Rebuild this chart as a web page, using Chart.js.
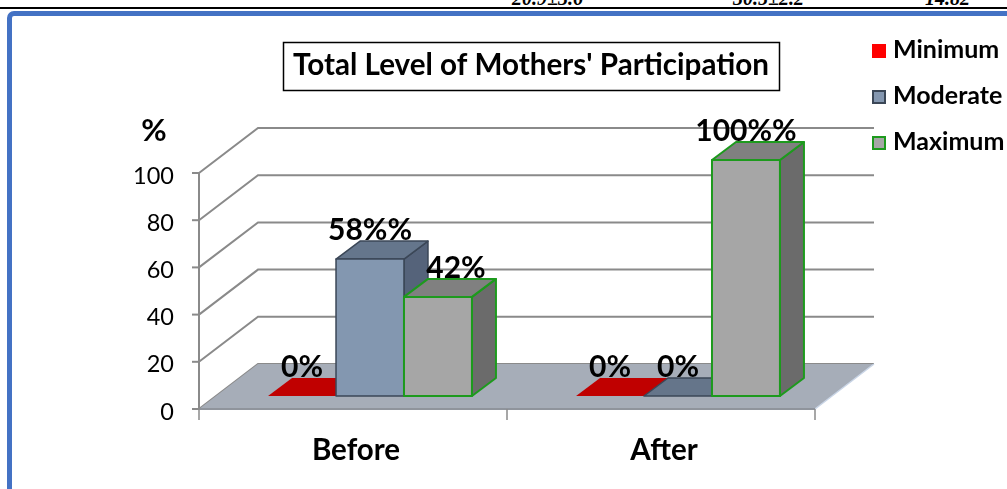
<!DOCTYPE html>
<html><head><meta charset="utf-8">
<script src="https://cdn.jsdelivr.net/npm/chart.js@4.4.0/dist/chart.umd.min.js"></script>
<style>
html,body{margin:0;padding:0;background:#fff;width:1007px;height:489px;overflow:hidden;position:relative;}
#rule{position:absolute;left:0;top:7px;width:1007px;height:2px;background:#000;}
#frame{position:absolute;left:7px;top:11px;width:1100px;height:600px;border:5px solid #4472c4;border-radius:7px;box-sizing:border-box;}
.cut{position:absolute;top:-12px;font:italic bold 20px "Liberation Serif",serif;line-height:20px;white-space:nowrap;color:#000;}
canvas{position:absolute;left:0;top:0;}
</style></head>
<body>
<div class="cut" style="left:512px">20.9±3.6</div>
<div class="cut" style="left:733px">30.5±2.2</div>
<div class="cut" style="left:925px">14.82</div>
<div id="rule"></div>
<div id="frame"></div>
<canvas id="c" width="1007" height="489"></canvas>
<script>
// ---- data ----
const categories = ['Before', 'After'];
const seriesNames = ['Minimum', 'Moderate', 'Maximum'];
const minimumValues = [0, 0];
const moderateValues = [58, 0];
const maximumValues = [42, 100];
const minimumLabels = ['0%', '0%'];
const moderateLabels = ['58%%', '0%'];
const maximumLabels = ['42%', '100%%'];
const yTicks = [0, 20, 40, 60, 80, 100];
const chartTitle = "Total Level of Mothers' Participation";
const yUnit = '%';

// ---- styles ----
const FONT = 'Lato, "Open Sans", sans-serif';
const barStyles = [
  { front: '#c00000', top: '#c00000', side: '#900000', flat: '#c00000', border: null, legend: '#ff0000', legendBorder: null },
  { front: '#8397b0', top: '#65768c', side: '#55637a', flat: '#65758a', border: '#3b4757', legend: '#8497b0', legendBorder: '#3b4757' },
  { front: '#a6a6a6', top: '#808080', side: '#6b6b6b', flat: '#808080', border: '#1d9a1d', legend: '#a6a6a6', legendBorder: '#1d9a1d' }
];
const seriesLabels = [minimumLabels, moderateLabels, maximumLabels];
const labelNudge = { '2-0': 18 };
const BAR_D = { x: 24, y: -18 };
const FRONT = { x: -17, y: 13 };
const BACK = { x: 42, y: -32 };
const GRID = '#8a8a8a';

const plugin3d = {
  id: 'plugin3d',
  beforeDatasetsDraw(chart) {
    const ctx = chart.ctx, ys = chart.scales.y, xs = chart.scales.x;
    const L = chart.chartArea.left, R = chart.chartArea.right;
    ctx.save();
    ctx.strokeStyle = GRID; ctx.lineWidth = 2;
    ys.ticks.forEach(t => {
      const p = ys.getPixelForValue(t.value);
      ctx.beginPath();
      ctx.moveTo(L + FRONT.x, p + FRONT.y);
      ctx.lineTo(L + BACK.x, p + BACK.y);
      ctx.lineTo(R + BACK.x, p + BACK.y);
      ctx.stroke();
    });
    // floor
    const z = ys.getPixelForValue(0);
    ctx.beginPath();
    ctx.moveTo(L + FRONT.x, z + FRONT.y);
    ctx.lineTo(R + FRONT.x, z + FRONT.y);
    ctx.lineTo(R + BACK.x, z + BACK.y);
    ctx.lineTo(L + BACK.x, z + BACK.y);
    ctx.closePath();
    ctx.fillStyle = '#a6adb8'; ctx.fill();
    ctx.strokeStyle = '#c9d5e6'; ctx.lineWidth = 1.5;
    ctx.beginPath(); ctx.moveTo(R + FRONT.x, z + FRONT.y); ctx.lineTo(R + BACK.x, z + BACK.y); ctx.stroke();
    ctx.strokeStyle = '#8f949c'; ctx.lineWidth = 2;
    ctx.beginPath(); ctx.moveTo(L + FRONT.x, z + FRONT.y); ctx.lineTo(R + FRONT.x, z + FRONT.y); ctx.stroke();
    // front vertical axis + tick marks
    ctx.strokeStyle = GRID; ctx.lineWidth = 2;
    const top = ys.getPixelForValue(ys.max);
    ctx.beginPath(); ctx.moveTo(L + FRONT.x, top + FRONT.y); ctx.lineTo(L + FRONT.x, z + FRONT.y); ctx.stroke();
    ys.ticks.forEach(t => {
      const p = ys.getPixelForValue(t.value) + FRONT.y;
      ctx.beginPath(); ctx.moveTo(L + FRONT.x - 7, p); ctx.lineTo(L + FRONT.x, p); ctx.stroke();
    });
    // x ticks at category boundaries
    ctx.lineWidth = 1.5;
    const n = xs.ticks.length;
    for (let i = 0; i <= n; i++) {
      const px = L + (R - L) * i / n + FRONT.x;
      ctx.beginPath(); ctx.moveTo(px, z + FRONT.y); ctx.lineTo(px, z + FRONT.y + 11); ctx.stroke();
    }
    // y unit label
    ctx.fillStyle = '#000'; ctx.font = 'bold 31px ' + FONT;
    ctx.textAlign = 'center'; ctx.textBaseline = 'middle';
    ctx.fillText(yUnit, 154, 131);
    // title box
    ctx.font = 'bold 26px ' + FONT;
    const w = ctx.measureText(chartTitle).width;
    const fs = 26 * 476 / w;
    ctx.font = 'bold ' + fs.toFixed(2) + 'px ' + FONT;
    ctx.textBaseline = 'alphabetic';
    ctx.fillText(chartTitle, 531, 75);
    ctx.strokeStyle = '#000'; ctx.lineWidth = 1.5;
    ctx.strokeRect(283.5, 42.5, 496, 48);
    // legend
    ctx.font = 'bold 25px ' + FONT; ctx.textAlign = 'left';
    chart.data.datasets.forEach((ds, i) => {
      const st = barStyles[i];
      const yb = 58 + 46 * i;
      ctx.fillStyle = st.legend;
      ctx.fillRect(872, yb - 14, 14, 14);
      if (st.legendBorder) { ctx.strokeStyle = st.legendBorder; ctx.lineWidth = 2; ctx.strokeRect(873, yb - 13, 12, 12); }
      ctx.fillStyle = '#000';
      ctx.fillText(ds.label, 893, yb);
    });
    ctx.restore();
  },
  afterDatasetsDraw(chart) {
    const ctx = chart.ctx;
    ctx.save();
    ctx.lineJoin = 'round';
    const nCat = chart.data.labels.length;
    const items = [];
    for (let j = 0; j < nCat; j++) {
      chart.data.datasets.forEach((ds, i) => {
        const el = chart.getDatasetMeta(i).data[j];
        const p = el.getProps(['x', 'y', 'base', 'width'], true);
        const st = barStyles[i];
        const l = p.x - p.width / 2, r = p.x + p.width / 2, t = p.y, b = p.base;
        const poly = (pts, fill) => {
          ctx.beginPath(); ctx.moveTo(pts[0][0], pts[0][1]);
          for (let k = 1; k < pts.length; k++) ctx.lineTo(pts[k][0], pts[k][1]);
          ctx.closePath(); ctx.fillStyle = fill; ctx.fill();
          if (st.border) { ctx.strokeStyle = st.border; ctx.lineWidth = i === 2 ? 2 : 1.5; ctx.stroke(); }
        };
        if (b - t < 0.5) {
          poly([[l, b], [r, b], [r + BAR_D.x, b + BAR_D.y], [l + BAR_D.x, b + BAR_D.y]], st.flat);
        } else {
          poly([[r, b], [r + BAR_D.x, b + BAR_D.y], [r + BAR_D.x, t + BAR_D.y], [r, t]], st.side);
          poly([[l, t], [r, t], [r + BAR_D.x, t + BAR_D.y], [l + BAR_D.x, t + BAR_D.y]], st.top);
          poly([[l, t], [r, t], [r, b], [l, b]], st.front);
        }
        items.push({ x: p.x + (labelNudge[i + '-' + j] || 0), y: t + BAR_D.y, text: seriesLabels[i][j] });
      });
    }
    ctx.fillStyle = '#000'; ctx.font = 'bold 30px ' + FONT;
    ctx.textAlign = 'center'; ctx.textBaseline = 'alphabetic';
    items.forEach(it => ctx.fillText(it.text, it.x, it.y - 1));
    ctx.restore();
  }
};

const datasets = [minimumValues, moderateValues, maximumValues].map((vals, i) => ({
  label: seriesNames[i],
  data: vals,
  backgroundColor: barStyles[i].front,
  borderWidth: 0,
  barPercentage: 1,
  categoryPercentage: 0.662
}));

new Chart(document.getElementById('c'), {
  type: 'bar',
  data: { labels: categories, datasets },
  options: {
    responsive: false,
    animation: false,
    layout: { padding: { left: 96, right: 175, top: 160, bottom: 3 } },
    plugins: { legend: { display: false }, title: { display: false }, tooltip: { enabled: false } },
    scales: {
      x: {
        grid: { display: false, drawTicks: false },
        border: { display: false },
        ticks: { font: { family: FONT, size: 29.5, weight: 'bold' }, color: '#000', padding: 37, labelOffset: -14 },
        afterFit: s => { s.height = 90; }
      },
      y: {
        min: 0, max: 100,
        afterBuildTicks: s => { s.ticks = yTicks.map(v => ({ value: v })); },
        grid: { display: false, drawTicks: false },
        border: { display: false },
        ticks: { font: { family: FONT, size: 23.5 }, color: '#000', padding: 42, labelOffset: 16 },
        afterFit: s => { s.width = 120; }
      }
    }
  },
  plugins: [plugin3d]
});
</script>
</body></html>
